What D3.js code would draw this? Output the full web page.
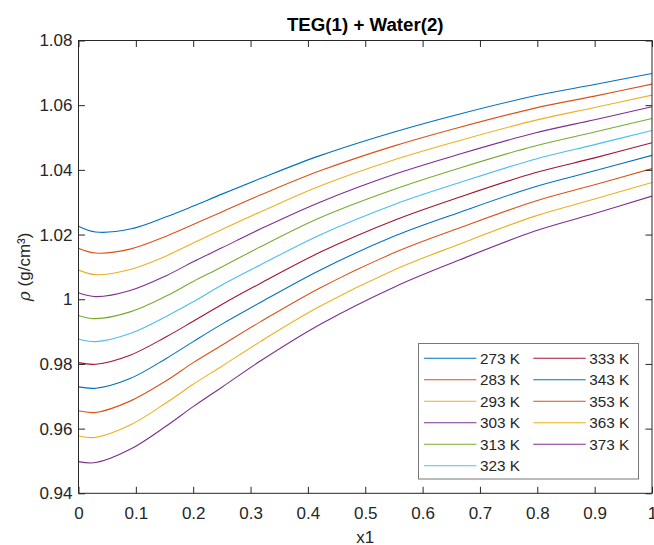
<!DOCTYPE html>
<html>
<head>
<meta charset="utf-8">
<script src="https://cdn.jsdelivr.net/npm/d3@7"></script>
<style>
  html, body { margin: 0; padding: 0; background: #fff; }
  svg { display: block; font-family: "Liberation Sans", Arial, Helvetica, sans-serif; }
</style>
</head>
<body>
<svg id="chart" width="654" height="545"></svg>
<script>
// ---- data ----
const xValues = [0, 0.03, 0.09, 0.153, 0.2, 0.25, 0.317, 0.421, 0.552, 0.665, 0.796, 0.9, 1.0];
const seriesNames = ["273 K", "283 K", "293 K", "303 K", "313 K", "323 K", "333 K", "343 K", "353 K", "363 K", "373 K"];
const rho273 = [1.0226, 1.0208, 1.0217, 1.0255, 1.0288, 1.0325, 1.0373, 1.0444, 1.0518, 1.0573, 1.0629, 1.0664, 1.0698];
const rho283 = [1.0158, 1.0143, 1.0155, 1.0195, 1.0231, 1.0270, 1.0322, 1.0397, 1.0475, 1.0532, 1.0591, 1.0628, 1.0665];
const rho293 = [1.0090, 1.0076, 1.0092, 1.0134, 1.0174, 1.0216, 1.0270, 1.0350, 1.0432, 1.0491, 1.0553, 1.0593, 1.0631];
const rho303 = [1.0020, 1.0008, 1.0027, 1.0073, 1.0116, 1.0159, 1.0217, 1.0300, 1.0387, 1.0449, 1.0514, 1.0555, 1.0595];
const rho313 = [0.9950, 0.9940, 0.9961, 1.0010, 1.0055, 1.0100, 1.0162, 1.0252, 1.0341, 1.0406, 1.0474, 1.0517, 1.0559];
const rho323 = [0.9877, 0.9869, 0.9894, 0.9947, 0.9992, 1.0044, 1.0106, 1.0199, 1.0294, 1.0361, 1.0433, 1.0478, 1.0522];
const rho333 = [0.9804, 0.9799, 0.9827, 0.9884, 0.9932, 0.9984, 1.0049, 1.0145, 1.0245, 1.0316, 1.0391, 1.0437, 1.0484];
const rho343 = [0.9729, 0.9725, 0.9755, 0.9817, 0.9869, 0.9923, 0.9990, 1.0090, 1.0196, 1.0269, 1.0348, 1.0397, 1.0445];
const rho353 = [0.9655, 0.9650, 0.9685, 0.9748, 0.9804, 0.9858, 0.9930, 1.0035, 1.0145, 1.0221, 1.0303, 1.0354, 1.0404];
const rho363 = [0.9577, 0.9573, 0.9611, 0.9680, 0.9737, 0.9793, 0.9869, 0.9978, 1.0092, 1.0171, 1.0257, 1.0310, 1.0361];
const rho373 = [0.9498, 0.9495, 0.9536, 0.9608, 0.9668, 0.9728, 0.9809, 0.9922, 1.0039, 1.0122, 1.0211, 1.0265, 1.0319];
const xTicks = [0, 0.1, 0.2, 0.3, 0.4, 0.5, 0.6, 0.7, 0.8, 0.9, 1];
const xTickLabels = ["0", "0.1", "0.2", "0.3", "0.4", "0.5", "0.6", "0.7", "0.8", "0.9", "1"];
const yTicks = [0.94, 0.96, 0.98, 1.00, 1.02, 1.04, 1.06, 1.08];
const yTickLabels = ["0.94", "0.96", "0.98", "1", "1.02", "1.04", "1.06", "1.08"];
const colors = ["#0072BD", "#D95319", "#EDB120", "#7E2F8E", "#77AC30", "#4DBEEE", "#A2142F",
                "#0072BD", "#D95319", "#EDB120", "#7E2F8E"];

const allSeries = [rho273, rho283, rho293, rho303, rho313, rho323, rho333, rho343, rho353, rho363, rho373];
const series = allSeries.map((vals, i) => ({
  name: seriesNames[i], color: colors[i],
  points: vals.map((v, j) => ({ x: xValues[j], y: v }))
}));

// ---- layout ----
const svg = d3.select("#chart");
const L = 78.5, R = 652, T = 40.5, B = 493.3;
const axisColor = "#262626";
const x = d3.scaleLinear().domain([0, 1]).range([L, R]);
const y = d3.scaleLinear().domain([0.94, 1.08]).range([B, T]);

svg.append("rect").attr("x", 0).attr("y", 0).attr("width", 654).attr("height", 545).attr("fill", "#fff");

svg.append("clipPath").attr("id", "clip").append("rect")
  .attr("x", L).attr("y", T).attr("width", R - L).attr("height", B - T);

// lines
const line = d3.line().x(d => x(d.x)).y(d => y(d.y)).curve(d3.curveCatmullRom.alpha(0.5));
svg.append("g").attr("clip-path", "url(#clip)")
  .selectAll("path").data(series).join("path")
  .attr("d", d => line(d.points))
  .attr("fill", "none")
  .attr("stroke", d => d.color)
  .attr("stroke-width", 1.1);

// axes
const tickLen = 6.5;
const fs = 17;
function styleAxis(g, showLabels) {
  g.select(".domain").remove();
  g.selectAll(".tick line").attr("stroke", axisColor).attr("stroke-width", 1);
  g.selectAll(".tick text").attr("fill", axisColor).style("font-size", fs + "px")
    .style("font-family", '"Liberation Sans", Arial, sans-serif');
  if (!showLabels) g.selectAll(".tick text").remove();
}
svg.append("g").attr("transform", `translate(0,${B})`)
  .call(d3.axisBottom(x).tickValues(xTicks).tickFormat((d, i) => xTickLabels[i])
    .tickSizeInner(-tickLen).tickSizeOuter(0).tickPadding(13.6))
  .call(g => styleAxis(g, true));
svg.append("g").attr("transform", `translate(0,${T})`)
  .call(d3.axisTop(x).tickValues(xTicks).tickSizeInner(-tickLen).tickSizeOuter(0))
  .call(g => styleAxis(g, false));
svg.append("g").attr("transform", `translate(${L},0)`)
  .call(d3.axisLeft(y).tickValues(yTicks).tickFormat((d, i) => yTickLabels[i])
    .tickSizeInner(-tickLen).tickSizeOuter(0).tickPadding(6))
  .call(g => styleAxis(g, true));
svg.append("g").attr("transform", `translate(${R},0)`)
  .call(d3.axisRight(y).tickValues(yTicks).tickSizeInner(-tickLen).tickSizeOuter(0))
  .call(g => styleAxis(g, false));

// box
svg.append("rect").attr("x", L).attr("y", T).attr("width", R - L).attr("height", B - T)
  .attr("fill", "none").attr("stroke", axisColor).attr("stroke-width", 1);

// title
svg.append("text").attr("x", (L + R) / 2).attr("y", 31)
  .attr("text-anchor", "middle").attr("font-weight", "bold")
  .style("font-size", "18.7px").attr("fill", "#000")
  .text("TEG(1) + Water(2)");

// x label
svg.append("text").attr("x", (L + R) / 2).attr("y", 542.5)
  .attr("text-anchor", "middle").style("font-size", fs + "px").attr("fill", axisColor)
  .text("x1");

// y label
const yl = svg.append("text")
  .attr("transform", `translate(30,${(T + B) / 2}) rotate(-90)`)
  .attr("text-anchor", "middle").style("font-size", fs + "px").attr("fill", axisColor);
yl.append("tspan").attr("font-style", "italic").style("font-family", '"DejaVu Serif", "Liberation Serif", serif').text("ρ");
yl.append("tspan").text(" (g/cm³)");

// legend
const lg = svg.append("g");
lg.append("rect").attr("x", 418.5).attr("y", 343.5).attr("width", 220).attr("height", 135.5)
  .attr("fill", "#fff").attr("stroke", "#777").attr("stroke-width", 1);
const rowH = 21.5, row0 = 358.3;
series.forEach((s, i) => {
  const col = i < 6 ? 0 : 1;
  const row = i < 6 ? i : i - 6;
  const lx = col === 0 ? 424 : 533.3;
  const ty = row0 + row * rowH;
  lg.append("line").attr("x1", lx).attr("x2", lx + 52.4).attr("y1", ty).attr("y2", ty)
    .attr("stroke", s.color).attr("stroke-width", 1.1);
  lg.append("text").attr("x", lx + 56).attr("y", ty).attr("dy", "0.36em")
    .style("font-size", "15.3px").attr("fill", axisColor).text(s.name);
});
</script>
</body>
</html>
